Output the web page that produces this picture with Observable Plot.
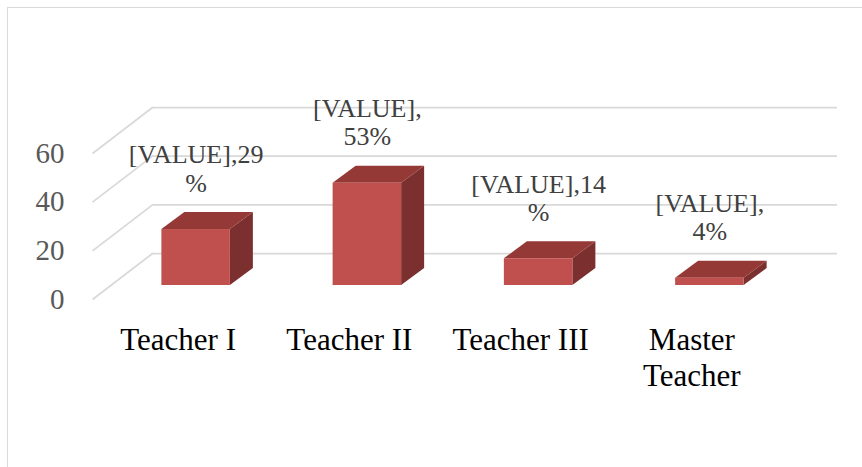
<!DOCTYPE html>
<html>
<head>
<meta charset="utf-8">
<script src="https://cdn.jsdelivr.net/npm/d3@7"></script>
<script src="https://cdn.jsdelivr.net/npm/@observablehq/plot@0.6"></script>
<style>
  html, body { margin: 0; padding: 0; background: #fff; overflow: hidden; }
  #wrap { position: relative; width: 862px; height: 467px; }
  #border { position: absolute; left: 7px; top: 7px; width: 900px; height: 520px;
            border: 1.5px solid #d9d9d9; box-sizing: border-box; }
  #chart { position: absolute; left: 0; top: 0; }
</style>
</head>
<body>
<div id="wrap"><div id="border"></div><div id="chart"></div></div>
<script>
// ---- data ----
const categories = ["Teacher I", "Teacher II", "Teacher III", "Master Teacher"];
const counts = [23, 42, 11, 3];
const dataLabels = ["[VALUE],29\n%", "[VALUE],\n53%", "[VALUE],14\n%", "[VALUE],\n4%"];
const yTicks = [0, 20, 40, 60];

// ---- layout (pixels) ----
const W = 862, H = 467;
const mL = 92, mR = 85, mT = 153, mB = 168;
const ux = categories.length / (W - mL - mR);   // x units per px
const uy = 60 / (H - mT - mB);                  // y units per px
const wallDX = 60, wallDY = 46;                 // depth of the 3D box
const barDX = 18, barDY = 14;                   // bar position inside depth
const barDepthX = 23, barDepthY = 17;           // depth of a bar
const half = 0.2;
const serif = "Liberation Serif";

const bars = categories.map((c, i) => ({i, c, v: counts[i], label: dataLabels[i]}));
const sidePts = bars.flatMap(d => [
  {i: d.i, x: d.i + 0.5 + half, y1: 0, y2: d.v},
  {i: d.i, x: d.i + 0.5 + half + barDepthX * ux, y1: barDepthY * uy, y2: d.v + barDepthY * uy}
]);
const topPts = bars.flatMap(d => [
  {i: d.i, y: d.v, x1: d.i + 0.5 - half, x2: d.i + 0.5 + half},
  {i: d.i, y: d.v + barDepthY * uy, x1: d.i + 0.5 - half + barDepthX * ux, x2: d.i + 0.5 + half + barDepthX * ux}
]);

const grid = "#d9d9d9";

const chart = Plot.plot({
  width: W, height: H,
  marginLeft: mL, marginRight: mR, marginTop: mT, marginBottom: mB,
  style: {fontFamily: serif, background: "transparent", overflow: "visible"},
  x: {domain: [0, categories.length], axis: null},
  y: {domain: [0, 60]},
  marks: [
    // back wall gridlines
    Plot.ruleY(yTicks, {y: d => d, x1: () => 0, x2: () => categories.length, dx: wallDX, dy: -wallDY, stroke: grid, strokeWidth: 1.75}),
    // side wall diagonals
    Plot.link(yTicks, {x1: () => 0, y1: d => d, x2: () => wallDX * ux, y2: d => d + wallDY * uy, stroke: grid, strokeWidth: 1.75}),
    // y axis labels
    Plot.axisY({ticks: yTicks, tickSize: 0, tickPadding: 28, fontSize: 29, fontFamily: serif, fill: "#595959", label: null}),
    // bar side faces
    Plot.areaY(sidePts, {x: "x", y1: "y1", y2: "y2", z: "i", fill: "#7b2f2e", dx: barDX, dy: -barDY}),
    // bar top faces
    Plot.areaX(topPts, {y: "y", x1: "x1", x2: "x2", z: "i", fill: "#953937", dx: barDX, dy: -barDY}),
    // bar front faces
    Plot.rect(bars, {x1: d => d.i + 0.5 - half, x2: d => d.i + 0.5 + half, y1: () => 0, y2: d => d.v,
                     fill: "#c0504d", dx: barDX, dy: -barDY}),
    // data labels
    Plot.text(bars, {x: d => d.i + 0.5, y: d => d.v, text: d => d.label, dx: barDX, dy: -52,
                     lineAnchor: "bottom", fontSize: 26, fontFamily: serif, lineHeight: 1.08, fill: "#404040"}),
    // category labels
    Plot.text(categories, {x: (d, i) => i + 0.5, y: () => 0, text: d => d, lineAnchor: "top", dy: 25,
                           lineWidth: 6, lineHeight: 1.16, fontSize: 31, fontFamily: serif, fill: "#000"})
  ]
});
document.getElementById("chart").appendChild(chart);
</script>
</body>
</html>
